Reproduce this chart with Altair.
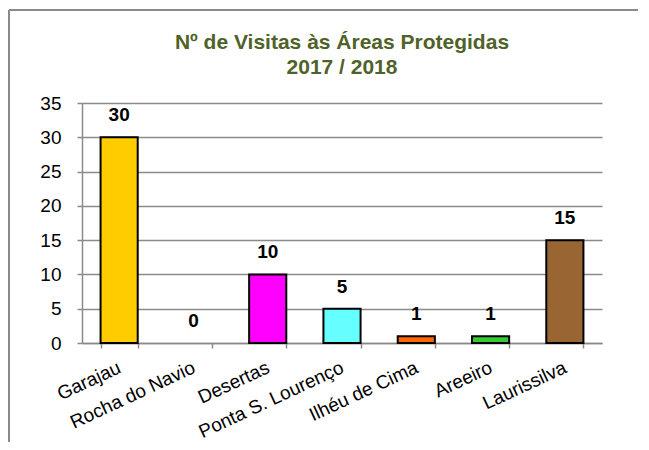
import altair as alt
import pandas as pd

areas = ["Garajau", "Rocha do Navio", "Desertas", "Ponta S. Lourenço",
         "Ilhéu de Cima", "Areeiro", "Laurissilva"]
visits = [30, 0, 10, 5, 1, 1, 15]
colors = ["#FFCC00", "#FFFFFF", "#FF00FF", "#66FFFF", "#FF6600", "#33CC33", "#996633"]
y_ticks = [0, 5, 10, 15, 20, 25, 30, 35]

df = pd.DataFrame({"area": areas, "v": visits})

FONT = "Liberation Sans"
GRID = "#8a8a8a"

x = alt.X("area:N", sort=areas, title=None,
          scale=alt.Scale(paddingInner=0.5, paddingOuter=0.25),
          axis=alt.Axis(labelAngle=-25, labelAlign="right", labelBaseline="middle",
                        labelFont=FONT, labelFontSize=19, labelColor="#000000",
                        labelPadding=18, tickBand="extent", tickSize=5,
                        tickColor=GRID, tickWidth=1.5, domainColor=GRID,
                        domainWidth=1.5, grid=False, labelOverlap=False))
y = alt.Y("v:Q", title=None,
          scale=alt.Scale(domain=[0, 35], nice=False),
          axis=alt.Axis(values=y_ticks, labelFont=FONT, labelFontSize=19,
                        labelColor="#000000", labelPadding=16, tickSize=5,
                        labelOverlap=False,
                        tickColor=GRID, tickWidth=1.5, domainColor=GRID,
                        domainWidth=1.5, gridColor=GRID, gridWidth=1.5))

bars = alt.Chart(df).mark_bar(stroke="#000000").encode(
    x=x, y=y,
    color=alt.Color("area:N", scale=alt.Scale(domain=areas, range=colors), legend=None),
    strokeWidth=alt.condition(alt.datum.v == 0, alt.value(0), alt.value(2)),
)

labels = alt.Chart(df).mark_text(font=FONT, fontSize=19, fontWeight="bold",
                                 baseline="alphabetic", dy=-16, color="#000000").encode(
    x=x, y=y, text="v:Q")

border_top = alt.Chart(alt.Data(values=[{}])).mark_rule(color="#8a8a8a", strokeWidth=2).encode(
    x=alt.value(-73), x2=alt.value(556), y=alt.value(-93))
border_left = alt.Chart(alt.Data(values=[{}])).mark_rule(color="#8a8a8a", strokeWidth=2).encode(
    x=alt.value(-73), y=alt.value(-93), y2=alt.value(345))

chart = alt.layer(border_top, border_left, bars, labels).properties(
    width=520, height=240,
    title=alt.TitleParams(text=["Nº de Visitas às Áreas Protegidas", "2017 / 2018"],
                          font=FONT, fontSize=21, fontWeight="bold", color="#4F6228",
                          anchor="middle", lineHeight=25, offset=-69),
    autosize=alt.AutoSizeParams(type="none"),
    padding={"left": 74, "top": 95, "right": 39, "bottom": 99},
).configure_view(stroke=None)

chart.save("out.html", embed_options={"renderer": "svg", "actions": False})
